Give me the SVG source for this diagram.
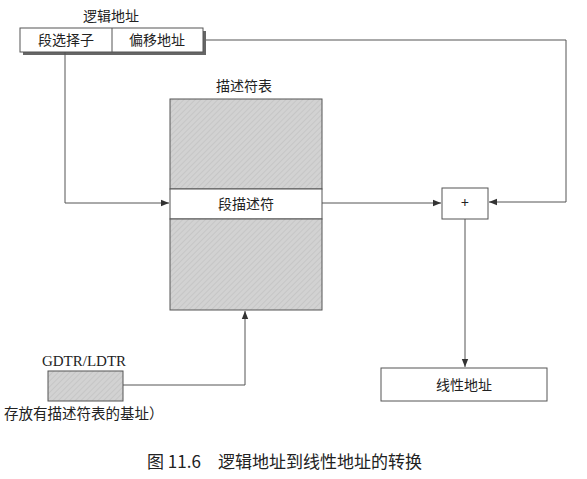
<svg xmlns="http://www.w3.org/2000/svg" width="587" height="479" viewBox="0 0 587 479">
<defs>
<marker id="ah" viewBox="0 0 10 10" refX="10" refY="5" markerWidth="8" markerHeight="8" markerUnits="userSpaceOnUse" orient="auto">
<path d="M0,1 L10,5 L0,9 z" fill="#333"/>
</marker>
<pattern id="hatch" width="4" height="4" patternUnits="userSpaceOnUse" patternTransform="rotate(45)">
<rect width="4" height="4" fill="#d2d2d2"/>
<line x1="0" y1="0" x2="0" y2="4" stroke="#c2c2c2" stroke-width="1.5"/>
</pattern>
</defs>
<style>
text{font-family:"Noto Sans CJK SC","Liberation Sans",sans-serif;fill:#222;}
.lbl{font-size:14px;text-anchor:middle;}
.box{fill:#fff;stroke:#555;stroke-width:1;}
.shade{fill:url(#hatch);stroke:#555;stroke-width:1;}
.ln{fill:none;stroke:#555;stroke-width:1;}
</style>
<rect width="587" height="479" fill="#fff"/>
<g id="logical-address">
<text class="lbl" x="111" y="21">逻辑地址</text>
<rect x="23" y="31" width="183" height="24" fill="#666"/>
<rect class="box" x="20" y="28" width="183" height="24"/>
<line class="ln" x1="112" y1="28" x2="112" y2="52"/>
<text class="lbl" x="66" y="45">段选择子</text>
<text class="lbl" x="157" y="45">偏移地址</text>
</g>
<g id="descriptor-table">
<text class="lbl" x="244" y="91">描述符表</text>
<rect class="shade" x="170" y="99" width="152" height="90"/>
<rect class="box" x="170" y="189" width="152" height="30"/>
<rect class="shade" x="170" y="219" width="152" height="91"/>
<text class="lbl" x="246" y="209">段描述符</text>
</g>
<g id="gdtr">
<text x="84" y="366" style="font-family:'Liberation Serif',serif;font-size:15px;text-anchor:middle">GDTR/LDTR</text>
<rect class="shade" x="48" y="371" width="75" height="30"/>
<text x="4" y="419" style="font-size:14.5px">存放有描述符表的基址）</text>
</g>
<g id="adder">
<rect class="box" x="442" y="188" width="46" height="31"/>
<text class="lbl" x="465" y="208">+</text>
</g>
<g id="linear-address">
<rect class="box" x="381" y="368" width="166" height="33"/>
<text class="lbl" x="464" y="390">线性地址</text>
</g>
<g id="connectors">
<polyline class="ln" points="65,52 65,203 169,203" marker-end="url(#ah)"/>
<polyline class="ln" points="206,40 566,40 566,202 489,202" marker-end="url(#ah)"/>
<line class="ln" x1="322" y1="203" x2="441" y2="203" marker-end="url(#ah)"/>
<line class="ln" x1="465" y1="219" x2="465" y2="367" marker-end="url(#ah)"/>
<polyline class="ln" points="123,385 245,385 245,311" marker-end="url(#ah)"/>
</g>
<text y="468" style="font-size:17px"><tspan x="147">图 11.6</tspan><tspan x="218">逻辑地址到线性地址的转换</tspan></text>
</svg>
